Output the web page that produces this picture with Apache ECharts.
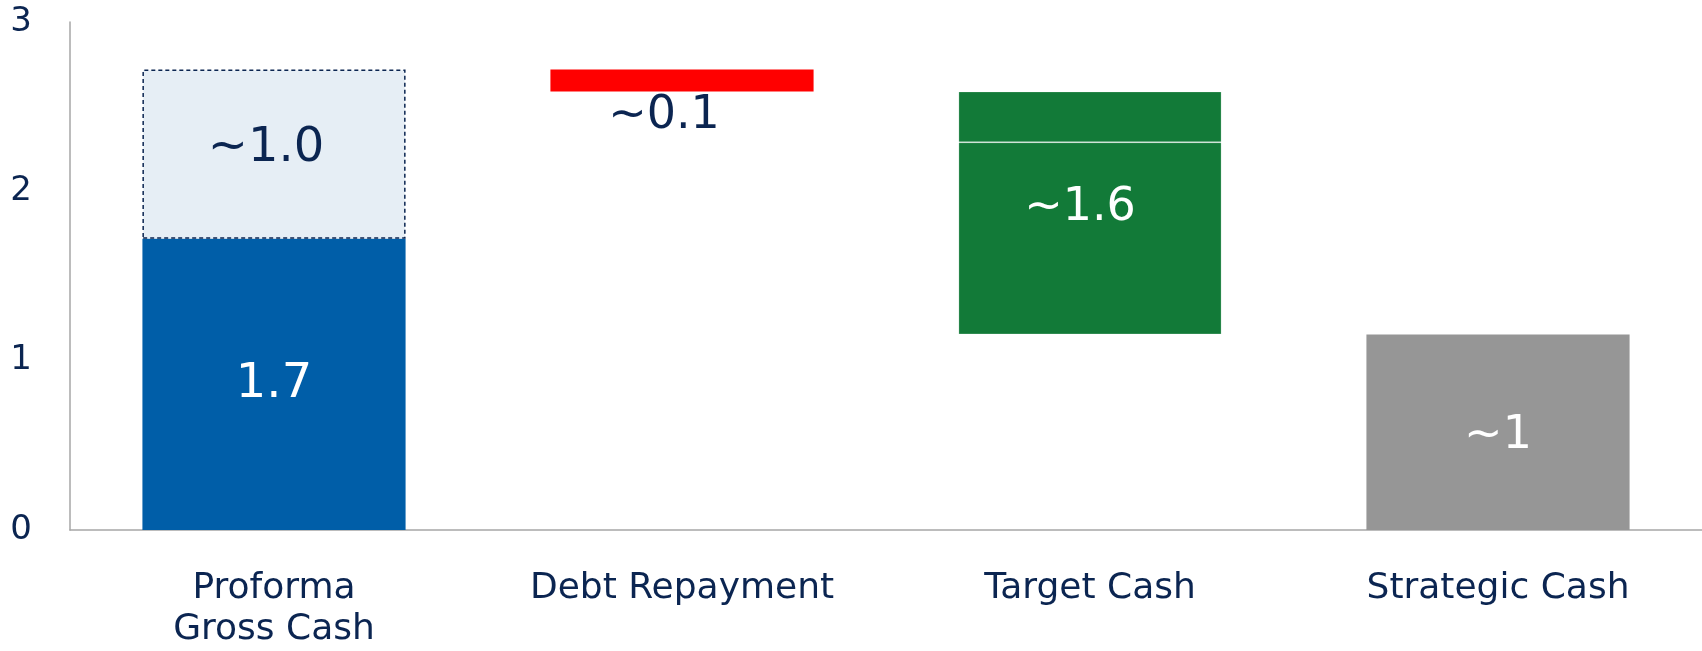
<!DOCTYPE html>
<html>
<head>
<meta charset="utf-8">
<script src="https://cdn.jsdelivr.net/npm/echarts@6/dist/echarts.min.js"></script>
<style>
    html, body { margin: 0; padding: 0; background: #fff; }
    #chart { width: 1702px; height: 651px; }
</style>
</head>
<body>
<div id="chart"></div>
<script>
// categories
const categories = ["Proforma\nGross Cash", "Debt Repayment", "Target Cash", "Strategic Cash"];

// waterfall pieces
const baseValues = [0, 2.59, 1.155, 0];
const grossCash = [1.72, "-", "-", "-"];
const upsideCash = [1.0, "-", "-", "-"];
const debtRepay = ["-", 0.13, "-", "-"];
const targetLower = ["-", "-", 1.135, "-"];
const targetUpper = ["-", "-", 0.3, "-"];
const strategicCash = ["-", "-", "-", 1.155];

// label texts
const grossLabel = "1.7";
const upsideLabel = "~1.0";
const debtLabel = "~0.1";
const targetLabel = "~1.6";
const strategicLabel = "~1";

const navy = "#0b2551";
const font = "DejaVu Sans";

const chart = echarts.init(document.getElementById("chart"));

function bar(name, data, color, extra) {
    return Object.assign({
        name: name,
        type: "bar",
        stack: "total",
        data: data,
        barCategoryGap: "35.5%",
        itemStyle: { color: color },
        emphasis: { disabled: true },
    }, extra || {});
}

chart.setOption({
    animation: false,
    grid: { left: 70, right: 0, top: 22, bottom: 121 },
    xAxis: {
        type: "category",
        data: categories,
        axisLine: { lineStyle: { color: "#a6a6a6", width: 1.5 } },
        axisTick: { show: false },
        axisLabel: {
            color: navy,
            fontFamily: font,
            fontSize: 36,
            lineHeight: 41,
            margin: 38,
            interval: 0,
        },
    },
    yAxis: {
        type: "value",
        min: 0,
        max: 3,
        interval: 1,
        axisLine: { show: true, lineStyle: { color: "#a6a6a6", width: 1.5 } },
        axisTick: { show: false },
        splitLine: { show: false },
        axisLabel: { color: navy, fontFamily: font, fontSize: 34, margin: 38 },
    },
    series: [
        bar("base", baseValues, "transparent"),
        bar("gross", grossCash, "#005ea8", {
            label: {
                show: true, position: "inside", formatter: grossLabel,
                color: "#fff", fontFamily: font, fontSize: 48,
            },
        }),
        bar("upside", upsideCash, "#e6eef5", {
            itemStyle: { color: "#e6eef5", borderColor: navy, borderWidth: 1.5, borderType: [4, 3] },
            label: {
                show: true, position: "inside", formatter: upsideLabel,
                color: navy, fontFamily: font, fontSize: 48, offset: [-8, -6],
            },
        }),
        bar("debt", debtRepay, "#ff0000", {
            label: {
                show: true, position: "bottom", distance: 2, formatter: debtLabel,
                color: navy, fontFamily: font, fontSize: 46, offset: [-18, 0],
            },
        }),
        bar("targetLower", targetLower, "#127a38", {
            itemStyle: { color: "#127a38", borderColor: "rgba(255,255,255,0.22)", borderWidth: 1 },
            label: {
                show: true, position: "inside", formatter: targetLabel,
                color: "#fff", fontFamily: font, fontSize: 46, offset: [-10, -30],
            },
        }),
        bar("targetUpper", targetUpper, "#127a38", {
            itemStyle: { color: "#127a38", borderColor: "rgba(255,255,255,0.22)", borderWidth: 1 },
        }),
        bar("strategic", strategicCash, "#969696", {
            label: {
                show: true, position: "inside", formatter: strategicLabel,
                color: "#fff", fontFamily: font, fontSize: 46, offset: [0, 4],
            },
        }),
    ],
});
</script>
</body>
</html>
